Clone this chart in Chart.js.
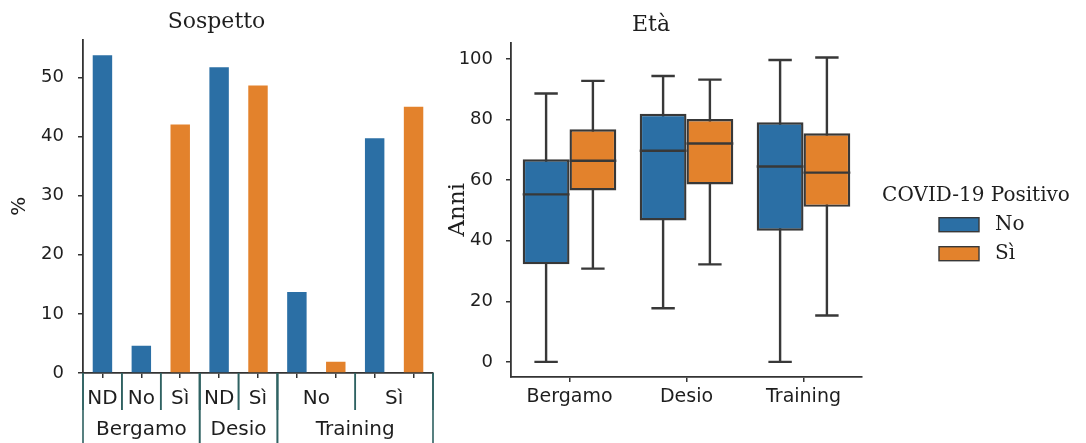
<!DOCTYPE html>
<html>
<head>
<meta charset="utf-8">
<script src="https://cdn.jsdelivr.net/npm/chart.js@4/dist/chart.umd.min.js"></script>
<style>
  body { margin: 0; background: #fff; }
  canvas { position: absolute; top: 0; }
  #sospettoChart { left: 0; }
  #etaChart { left: 440px; }
</style>
</head>
<body>
<canvas id="sospettoChart" width="440" height="443"></canvas>
<canvas id="etaChart" width="646" height="443"></canvas>
<script>
// --- Sospetto (bar chart, %) ---
const barSlots = ['Bergamo ND', 'Bergamo No', 'Bergamo Sì', 'Desio ND', 'Desio Sì',
                  'Training No', 'Training No', 'Training Sì', 'Training Sì'];
const pctPosNo = [53.7, 4.6, null, 51.7, null, 13.7, null, 39.7, null];
const pctPosSi = [null, null, 42.0, null, 48.6, null, 1.9, null, 45.0];
const subLabels = ['ND', 'No', 'Sì', 'ND', 'Sì', 'No', 'Sì'];
const subSpans = [1, 1, 1, 1, 1, 2, 2];
const groupLabels = ['Bergamo', 'Desio', 'Training'];
const groupSpans = [3, 2, 4];
const pctTicks = [0, 10, 20, 30, 40, 50];

// --- Età (box plot, anni) ---
const cities = ['Bergamo', 'Desio', 'Training'];
const noMin = [0, 17.7, 0];
const noQ1 = [32.2, 46.7, 43.3];
const noMed = [55.3, 69.7, 64.5];
const noQ3 = [66.9, 81.9, 79.1];
const noMax = [88.6, 94.4, 99.7];
const siMin = [30.8, 32.2, 15.3];
const siQ1 = [56.6, 58.6, 51.2];
const siMed = [66.4, 72.1, 62.5];
const siQ3 = [76.8, 80.2, 75.5];
const siMax = [92.8, 93.2, 100.5];
const ageTicks = [0, 20, 40, 60, 80, 100];

const legendTitle = 'COVID-19 Positivo';
const hueLabels = ['No', 'Sì'];

const BLUE = '#2b6fa5';
const ORANGE = '#e3822c';
const EDGE = '#383838';
const AXIS = '#333333';
const TEXT = '#1e1e1e';
const SANS = '"DejaVu Sans", sans-serif';
const SERIF = '"DejaVu Serif", serif';

Chart.defaults.font.family = SANS;
Chart.defaults.color = TEXT;
Chart.defaults.animation = false;

// two-level x labels with separators under the Sospetto bars
const hierLabels = {
  id: 'hierLabels',
  afterDraw(chart) {
    const x = chart.scales.x;
    const ctx = chart.ctx;
    const top = chart.chartArea.bottom;
    const step = x.getPixelForValue(1) - x.getPixelForValue(0);
    const edge = i => x.getPixelForValue(i) - step / 2;
    ctx.save();
    ctx.strokeStyle = '#2f6262';
    ctx.lineWidth = 1.6;
    ctx.fillStyle = TEXT;
    ctx.font = '20px ' + SANS;
    ctx.textAlign = 'center';
    ctx.textBaseline = 'middle';

    let i = 0;
    subLabels.forEach((lab, k) => {
      const a = edge(i);
      const b = edge(i + subSpans[k]);
      ctx.beginPath();
      ctx.moveTo(a, top); ctx.lineTo(a, top + 37);
      ctx.moveTo(b, top); ctx.lineTo(b, top + 37);
      ctx.stroke();
      ctx.fillText(lab, (a + b) / 2, top + 26);
      i += subSpans[k];
    });

    i = 0;
    groupLabels.forEach((lab, k) => {
      const a = edge(i);
      const b = edge(i + groupSpans[k]);
      ctx.beginPath();
      ctx.moveTo(a, top); ctx.lineTo(a, chart.height);
      ctx.moveTo(b, top); ctx.lineTo(b, chart.height);
      ctx.stroke();
      ctx.fillText(lab, (a + b) / 2, top + 57);
      i += groupSpans[k];
    });
    ctx.restore();
  }
};

new Chart(document.getElementById('sospettoChart'), {
  type: 'bar',
  data: {
    labels: barSlots,
    datasets: [
      { label: hueLabels[0], data: pctPosNo, backgroundColor: BLUE, skipNull: true },
      { label: hueLabels[1], data: pctPosSi, backgroundColor: ORANGE, skipNull: true }
    ]
  },
  options: {
    responsive: false,
    devicePixelRatio: 1,
    layout: { padding: { right: 7 } },
    datasets: { bar: { categoryPercentage: 0.5, barPercentage: 1.0 } },
    plugins: {
      legend: { display: false },
      tooltip: { enabled: false },
      title: {
        display: true,
        text: 'Sospetto',
        color: TEXT,
        font: { family: SERIF, size: 22, weight: 'normal' },
        padding: { top: 9, bottom: 4 }
      }
    },
    scales: {
      x: {
        grid: { offset: false, drawOnChartArea: false, tickLength: 5, color: AXIS, lineWidth: 1.5 },
        border: { color: AXIS, width: 1.8 },
        ticks: { display: false },
        afterFit(scale) { scale.height = 70; }
      },
      y: {
        min: 0,
        max: 56.4,
        afterBuildTicks(scale) { scale.ticks = pctTicks.map(v => ({ value: v })); },
        grid: { drawOnChartArea: false, tickLength: 5, color: AXIS, lineWidth: 1.5 },
        border: { color: AXIS, width: 1.8 },
        ticks: { font: { size: 18 }, padding: 14, color: TEXT },
        title: { display: true, text: '%', font: { size: 20 }, padding: { top: 8 }, color: TEXT },
        afterFit(scale) { scale.width = 83; }
      }
    }
  },
  plugins: [hierLabels]
});

// whiskers behind the boxes, medians on top
const boxParts = {
  id: 'boxParts',
  beforeDatasetsDraw(chart) {
    const y = chart.scales.y;
    const ctx = chart.ctx;
    ctx.save();
    ctx.strokeStyle = EDGE;
    ctx.lineWidth = 2.4;
    chart.data.datasets.forEach((ds, d) => {
      chart.getDatasetMeta(d).data.forEach((bar, i) => {
        const lo = y.getPixelForValue(ds.whiskerLow[i]);
        const hi = y.getPixelForValue(ds.whiskerHigh[i]);
        const half = bar.width / 4;
        ctx.beginPath();
        ctx.moveTo(bar.x, lo); ctx.lineTo(bar.x, hi);
        ctx.moveTo(bar.x - half, lo); ctx.lineTo(bar.x + half, lo);
        ctx.moveTo(bar.x - half, hi); ctx.lineTo(bar.x + half, hi);
        ctx.stroke();
      });
    });
    ctx.restore();
  },
  afterDatasetsDraw(chart) {
    const y = chart.scales.y;
    const ctx = chart.ctx;
    ctx.save();
    ctx.strokeStyle = EDGE;
    ctx.lineWidth = 2.4;
    chart.data.datasets.forEach((ds, d) => {
      chart.getDatasetMeta(d).data.forEach((bar, i) => {
        const m = y.getPixelForValue(ds.median[i]);
        ctx.beginPath();
        ctx.moveTo(bar.x - bar.width / 2, m);
        ctx.lineTo(bar.x + bar.width / 2, m);
        ctx.stroke();
      });
    });
    ctx.restore();
  }
};

// legend at the right of the Età panel
const sideLegend = {
  id: 'sideLegend',
  afterDraw(chart) {
    const ctx = chart.ctx;
    const area = chart.chartArea;
    const cx = area.right + 114;
    const cy = (area.top + area.bottom) / 2;
    ctx.save();
    ctx.fillStyle = TEXT;
    ctx.font = '20px ' + SERIF;
    ctx.textBaseline = 'middle';
    ctx.textAlign = 'center';
    ctx.fillText(legendTitle, cx, cy - 14);
    ctx.textAlign = 'left';
    chart.data.datasets.forEach((ds, d) => {
      const yy = cy + 15 + d * 29;
      ctx.fillStyle = ds.backgroundColor;
      ctx.fillRect(cx - 37, yy - 7, 40, 14);
      ctx.strokeStyle = EDGE;
      ctx.lineWidth = 1.4;
      ctx.strokeRect(cx - 37, yy - 7, 40, 14);
      ctx.fillStyle = TEXT;
      ctx.fillText(ds.label, cx + 19, yy);
    });
    ctx.restore();
  }
};

new Chart(document.getElementById('etaChart'), {
  type: 'bar',
  data: {
    labels: cities,
    datasets: [
      {
        label: hueLabels[0],
        data: cities.map((c, i) => [noQ1[i], noQ3[i]]),
        whiskerLow: noMin, whiskerHigh: noMax, median: noMed,
        backgroundColor: BLUE
      },
      {
        label: hueLabels[1],
        data: cities.map((c, i) => [siQ1[i], siQ3[i]]),
        whiskerLow: siMin, whiskerHigh: siMax, median: siMed,
        backgroundColor: ORANGE
      }
    ]
  },
  options: {
    responsive: false,
    devicePixelRatio: 1,
    layout: { padding: { right: 224 } },
    datasets: {
      bar: {
        categoryPercentage: 0.8,
        barPercentage: 1.0,
        borderColor: EDGE,
        borderWidth: 2.4,
        borderSkipped: false
      }
    },
    plugins: {
      legend: { display: false },
      tooltip: { enabled: false },
      title: {
        display: true,
        text: 'Età',
        color: TEXT,
        font: { family: SERIF, size: 22, weight: 'normal' },
        padding: { top: 12, bottom: 4 }
      }
    },
    scales: {
      x: {
        grid: { offset: false, drawOnChartArea: false, tickLength: 5, color: AXIS, lineWidth: 1.5 },
        border: { color: AXIS, width: 1.8 },
        ticks: { font: { size: 19 }, padding: 4, color: TEXT },
        afterFit(scale) { scale.height = 66; }
      },
      y: {
        min: -5,
        max: 105.5,
        afterBuildTicks(scale) { scale.ticks = ageTicks.map(v => ({ value: v })); },
        grid: { drawOnChartArea: false, tickLength: 5, color: AXIS, lineWidth: 1.5 },
        border: { color: AXIS, width: 1.8 },
        ticks: { font: { size: 18 }, padding: 13, color: TEXT },
        title: { display: true, text: 'Anni', font: { family: SERIF, size: 23 }, padding: { top: 4 }, color: TEXT },
        afterFit(scale) { scale.width = 71; }
      }
    }
  },
  plugins: [boxParts, sideLegend]
});
</script>
</body>
</html>
